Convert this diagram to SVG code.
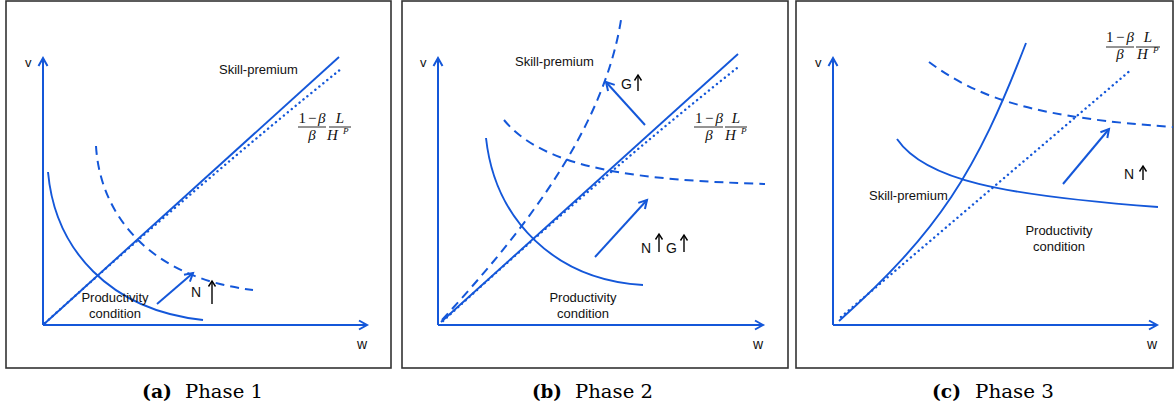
<svg xmlns="http://www.w3.org/2000/svg" width="1174" height="410" viewBox="0 0 1174 410">
<defs>
<style>
.frame{fill:#fff;stroke:#333;stroke-width:1.6}
.ax{fill:none;stroke:#1457d9;stroke-width:2;marker-end:url(#ba)}
.sol{fill:none;stroke:#1457d9;stroke-width:1.9}
.dash{fill:none;stroke:#1457d9;stroke-width:2;stroke-dasharray:9 6}
.dot{fill:none;stroke:#1457d9;stroke-width:2.4;stroke-dasharray:0.1 5;stroke-linecap:round}
.arr{fill:none;stroke:#1457d9;stroke-width:2;marker-end:url(#ba)}
.karr{fill:none;stroke:#000;stroke-width:1.4;marker-end:url(#ka)}
.lbl{font-family:"Liberation Sans",Arial,sans-serif;font-size:13px;fill:#111}
.big{font-family:"Liberation Sans",Arial,sans-serif;font-size:14px;fill:#111}
.mid{text-anchor:middle}
.math{font-family:"Liberation Serif","Times New Roman",serif;font-size:15px;fill:#111;font-style:italic}
.up{font-style:normal}
.bar{stroke:#111;stroke-width:0.9}
.cap{font-family:"DejaVu Serif",serif;font-size:18px;fill:#000}
</style>
<marker id="ba" markerUnits="userSpaceOnUse" markerWidth="14" markerHeight="14" refX="9" refY="5" orient="auto" overflow="visible">
<path d="M1,0.5 L9,5 L1,9.5" fill="none" stroke="#1457d9" stroke-width="2"/>
</marker>
<marker id="ka" markerUnits="userSpaceOnUse" markerWidth="12" markerHeight="12" refX="6" refY="4" orient="auto" overflow="visible">
<path d="M0.5,0.5 L6,4 L0.5,7.5" fill="none" stroke="#000" stroke-width="1.4"/>
</marker>
</defs>
<rect width="1174" height="410" fill="#fff"/>

<!-- Panel 1 -->
<g id="panel-a">
<rect class="frame" x="6" y="1" width="385" height="367"/>
<path class="ax" d="M43,325 L43,58"/>
<path class="ax" d="M43,325 L367,325"/>
<text class="lbl" x="25" y="67">v</text>
<text class="big" x="357" y="349">w</text>
<path class="sol" d="M43,325 L339,57"/>
<path class="dot" d="M45,323 C 150,228 250,142 341,69"/>
<path class="sol" d="M48,172 C 55,250 110,310 203,320"/>
<path class="dash" d="M96,146 C 100,215 150,278 253,290"/>
<path class="arr" d="M157,304 L193,273"/>
<text class="big" x="191" y="297">N</text>
<path class="karr" d="M212,304 L212,281"/>
<text class="lbl" x="219" y="74">Skill-premium</text>
<text class="lbl mid" x="115" y="302">Productivity</text>
<text class="lbl mid" x="115" y="318">condition</text>
<g id="frac-a">
<text class="math mid" x="312" y="123" textLength="27" lengthAdjust="spacing"><tspan class="up">1</tspan>−β</text>
<line class="bar" x1="298" y1="127" x2="326" y2="127"/>
<text class="math mid" x="312" y="140">β</text>
<text class="math mid" x="340" y="123">L</text>
<line class="bar" x1="329" y1="127" x2="351" y2="127"/>
<text class="math" x="327" y="140">H</text>
<text class="math" x="343" y="134" style="font-size:9px">P</text>
</g>
</g>

<!-- Panel 2 -->
<g id="panel-b">
<rect class="frame" x="402" y="1" width="386" height="367"/>
<path class="ax" d="M438,325 L438,58"/>
<path class="ax" d="M438,325 L763,325"/>
<text class="lbl" x="420" y="67">v</text>
<text class="big" x="753" y="349">w</text>
<path class="sol" d="M441,322 L738,54"/>
<path class="dot" d="M443,321 C 540,232 640,145 737,68"/>
<path class="dash" d="M442,320 C 520,235 603,132 621,20"/>
<path class="dash" d="M504,120 C 545,170 640,180 765,184"/>
<path class="sol" d="M486,138 C 495,220 555,280 643,285"/>
<path class="arr" d="M645,125 L606,82"/>
<text class="big" x="621" y="89">G</text>
<path class="karr" d="M638,91 L638,75"/>
<path class="arr" d="M595,257 L647,200"/>
<text class="big" x="641" y="253">N</text>
<path class="karr" d="M659,252 L659,234"/>
<text class="big" x="666" y="253">G</text>
<path class="karr" d="M684,252 L684,235"/>
<text class="lbl" x="515" y="66">Skill-premium</text>
<text class="lbl mid" x="583" y="302">Productivity</text>
<text class="lbl mid" x="583" y="318">condition</text>
<g id="frac-b">
<text class="math mid" x="709" y="123" textLength="28" lengthAdjust="spacing"><tspan class="up">1</tspan>−β</text>
<line class="bar" x1="694" y1="127" x2="723" y2="127"/>
<text class="math mid" x="709" y="140">β</text>
<text class="math mid" x="736" y="123">L</text>
<line class="bar" x1="725" y1="127" x2="747" y2="127"/>
<text class="math" x="725" y="140">H</text>
<text class="math" x="741" y="134" style="font-size:9px">P</text>
</g>
</g>

<!-- Panel 3 -->
<g id="panel-c">
<rect class="frame" x="796" y="1" width="377" height="367"/>
<path class="ax" d="M833,325 L833,58"/>
<path class="ax" d="M833,325 L1157,325"/>
<text class="lbl" x="815" y="67">v</text>
<text class="big" x="1147" y="349">w</text>
<path class="sol" d="M839,321 C 939,231 976,173 1026,43"/>
<path class="dot" d="M841,317 L1132,69"/>
<path class="dash" d="M929,62 C 980,100 1040,118 1173,127"/>
<path class="sol" d="M897,139 C 925,180 1000,195 1158,207"/>
<path class="arr" d="M1063,184 L1109,129"/>
<text class="big" x="1124" y="179">N</text>
<path class="karr" d="M1143,180 L1143,166"/>
<text class="lbl" x="869" y="200">Skill-premium</text>
<text class="lbl mid" x="1059" y="235">Productivity</text>
<text class="lbl mid" x="1059" y="251">condition</text>
<g id="frac-c">
<text class="math mid" x="1120" y="42" textLength="28" lengthAdjust="spacing"><tspan class="up">1</tspan>−β</text>
<line class="bar" x1="1106" y1="47" x2="1134" y2="47"/>
<text class="math mid" x="1120" y="59">β</text>
<text class="math mid" x="1148" y="42">L</text>
<line class="bar" x1="1136" y1="47" x2="1160" y2="47"/>
<text class="math" x="1137" y="59">H</text>
<text class="math" x="1153" y="53" style="font-size:9px">P</text>
</g>
</g>

<!-- Captions -->
<g id="captions">
<text class="cap" x="142" y="398" font-weight="bold" textLength="30" lengthAdjust="spacingAndGlyphs">(a)</text>
<text class="cap" x="185" y="398" textLength="78" lengthAdjust="spacingAndGlyphs">Phase 1</text>
<text class="cap" x="532" y="398" font-weight="bold" textLength="30" lengthAdjust="spacingAndGlyphs">(b)</text>
<text class="cap" x="575" y="398" textLength="78" lengthAdjust="spacingAndGlyphs">Phase 2</text>
<text class="cap" x="932" y="398" font-weight="bold" textLength="29" lengthAdjust="spacingAndGlyphs">(c)</text>
<text class="cap" x="975" y="398" textLength="79" lengthAdjust="spacingAndGlyphs">Phase 3</text>
</g>
</svg>
